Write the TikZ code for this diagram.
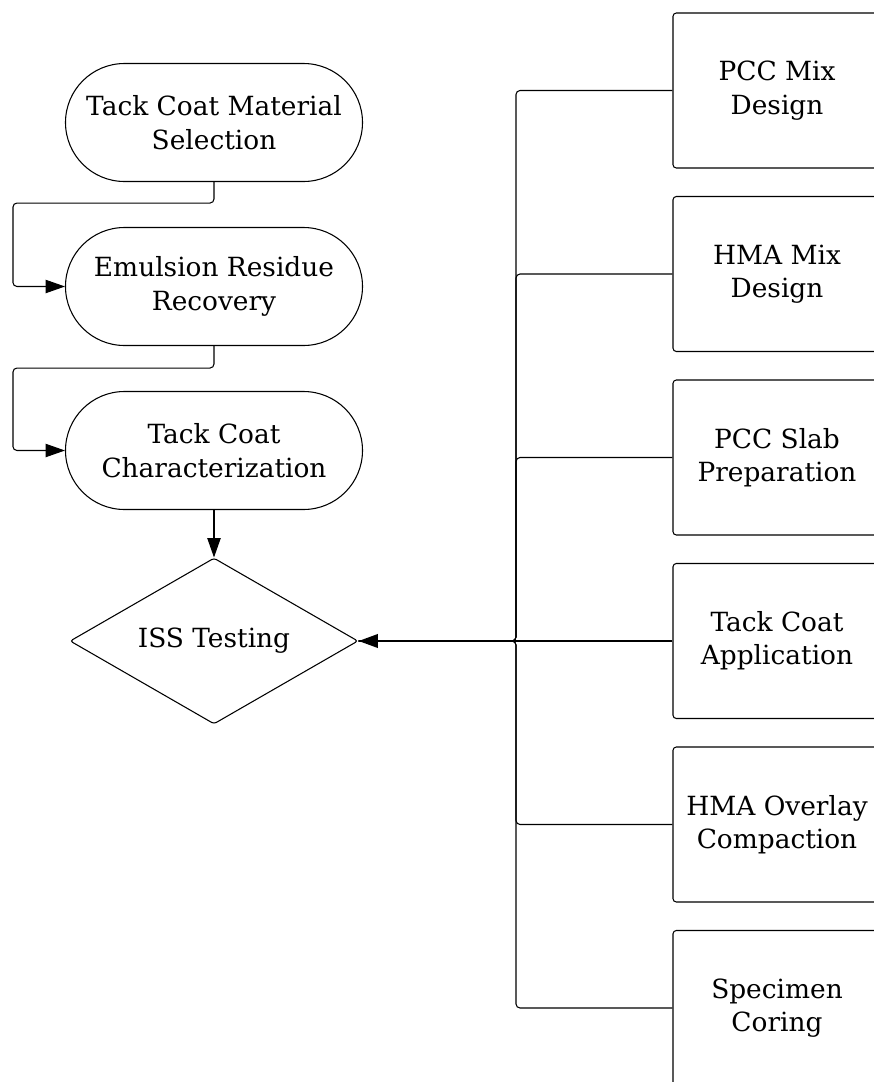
\documentclass[tikz,border=0pt]{standalone}
\usepackage{fontspec}
\setmainfont{DejaVu Serif}
\usetikzlibrary{arrows.meta,shapes.geometric,shapes.misc}

\tikzset{
  stadium/.style={draw, line width=0.8pt, rounded rectangle, align=center,
    minimum width=222.75pt, minimum height=88.5pt, inner sep=0pt},
  decision/.style={draw, line width=0.8pt, diamond, aspect=1.73, rounded corners=2pt,
    align=center, minimum width=216pt, minimum height=124.5pt, inner sep=0pt},
  stepbox/.style={draw, line width=0.8pt, rounded corners=2.5pt, align=center,
    minimum width=156pt, minimum height=116.25pt, inner sep=0pt},
  conn/.style={line width=0.8pt, rounded corners=3pt},
  tip/.style={-{Triangle[length=14.5pt,width=10pt]}},
}

\begin{document}
\begin{tikzpicture}[x=0.75pt, y=-0.75pt, font=\fontsize{19.8}{25}\selectfont]

  % page frame (pixel coordinates)
  \useasboundingbox (0,0) rectangle (874,1082);
  \clip (0,0) rectangle (874,1082);

  % left column
  \node[stadium] (sel) at (214,122.5) {Tack Coat Material\\Selection};
  \node[stadium] (rec) at (214,286.5) {Emulsion Residue\\Recovery};
  \node[stadium] (chr) at (214,450.5) {Tack Coat\\Characterization};
  \node[decision] (iss) at (214,641) {ISS Testing};

  % right column
  \node[stepbox] (pcc) at (777,90.5) {PCC Mix\\Design};
  \node[stepbox] (hma) at (777,274) {HMA Mix\\Design};
  \node[stepbox] (slab) at (777,457.5) {PCC Slab\\Preparation};
  \node[stepbox] (app) at (777,641) {Tack Coat\\Application};
  \node[stepbox] (ovl) at (777,824.5) {HMA Overlay\\Compaction};
  \node[stepbox] (cor) at (777,1008) {Specimen\\Coring};

  % left connectors
  \draw[conn,tip] (sel.south) -- ++(0,21) -| ([xshift=-39]rec.west) -- (rec.west);
  \draw[conn,tip] (rec.south) -- ++(0,22) -| ([xshift=-39]chr.west) -- (chr.west);
  \draw[conn,tip] (chr.south) -- (iss.north);

  % bus to the test
  \coordinate (bus) at (516,641);
  \foreach \b in {pcc,hma,slab,ovl,cor}
    \draw[conn] (\b.west) -| (bus) -- (iss.east);
  \draw[line width=0.8pt] (app.west) -- (bus);
  \draw[line width=2pt,tip] (bus) -- (iss.east);

\end{tikzpicture}
\end{document}
